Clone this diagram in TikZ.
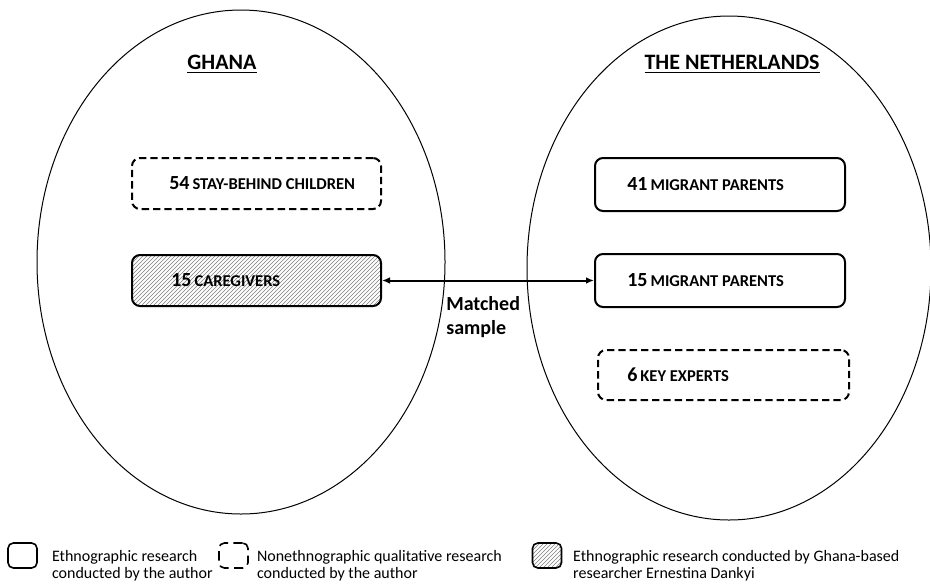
\documentclass[tikz,border=0pt]{standalone}
\usepackage{fontspec}
\setmainfont{Carlito}
\usetikzlibrary{positioning,patterns,arrows.meta}

\newcommand{\grp}[2]{{\fontsize{15}{18}\selectfont\bfseries #1} {\fontsize{12.4}{15}\selectfont\bfseries #2}}

\tikzset{
  region/.style={draw,line width=0.75pt},
  header/.style={font=\fontsize{16.5}{20}\selectfont\bfseries,inner sep=0pt},
  solidbox/.style={draw,line width=1.5pt,rounded corners=6pt,inner sep=0pt},
  dashbox/.style={solidbox,dash pattern=on 5.5pt off 3pt},
  hatchbox/.style={solidbox,pattern=north east lines,pattern color=gray},
  grptext/.style={anchor=west,inner sep=0pt},
  link/.style={line width=1.5pt,{Latex[length=6pt,width=5pt]}-{Latex[length=6pt,width=5pt]}},
  legbox/.style={minimum width=21.75pt,minimum height=18.75pt,line width=1.2pt,rounded corners=4pt},
  legtext/.style={font=\fontsize{12}{12.75}\selectfont,align=left,inner sep=0pt,anchor=west}
}

\begin{document}
\begin{tikzpicture}[x=0.75pt,y=-0.75pt]
\path[fill=white,use as bounding box] (0,0) rectangle (930,583);

% the two countries
\draw[region] (241,262) ellipse [x radius=204,y radius=252];
\draw[region] (729,268) ellipse [x radius=202,y radius=252];
\node[header] (ghana) at (222,64) {\underline{GHANA}};
\node[header] (nl) at (732,64) {\underline{THE NETHERLANDS}};

% Ghana
\node[dashbox,minimum width=186.75pt,minimum height=38.25pt] (kids) at (256.5,183.5) {};
\node[hatchbox,minimum width=186.75pt,minimum height=38.25pt] (care) at (256.5,280.5) {};
\node[grptext,right=28.5pt of kids.west] (kidstext) {\grp{54}{STAY-BEHIND CHILDREN}};
\node[grptext,right=30pt of care.west] (caretext) {\grp{15}{CAREGIVERS}};

% the Netherlands
\node[solidbox,minimum width=187.5pt,minimum height=39.75pt] (mig41) at (720,184.5) {};
\node[solidbox,minimum width=187.5pt,minimum height=39.75pt] (mig15) at (720,280.5) {};
\node[dashbox,minimum width=188.25pt,minimum height=37.5pt] (experts) at (723.5,375) {};
\node[grptext,right=24.75pt of mig41.west] (mig41text) {\grp{41}{MIGRANT PARENTS}};
\node[grptext,right=24.75pt of mig15.west] (mig15text) {\grp{15}{MIGRANT PARENTS}};
\node[grptext,right=22.5pt of experts.west] (expertstext) {\grp{6}{KEY EXPERTS}};

\draw[link] (care) -- (mig15);
\node[font=\fontsize{15}{18.5}\selectfont\bfseries,align=left,anchor=west,inner sep=0pt] (match) at (446,317) {Matched\\sample};

% legend
\node[legbox,draw] (legA) at (22.5,555.5) {};
\node[legbox,draw,dash pattern=on 7pt off 4pt] (legB) at (233.5,555.5) {};
\node[legbox,draw,pattern=north east lines,pattern color=gray] (legC) at (547,555.5) {};
\node[legtext,right=10.5pt of legA,yshift=-8pt] (legAtext) {Ethnographic research\\conducted by the author};
\node[legtext,right=6pt of legB,yshift=-8pt] (legBtext) {Nonethnographic qualitative research\\conducted by the author};
\node[legtext,right=8pt of legC,yshift=-8pt] (legCtext) {Ethnographic research conducted by Ghana-based\\researcher Ernestina Dankyi};
\end{tikzpicture}
\end{document}
